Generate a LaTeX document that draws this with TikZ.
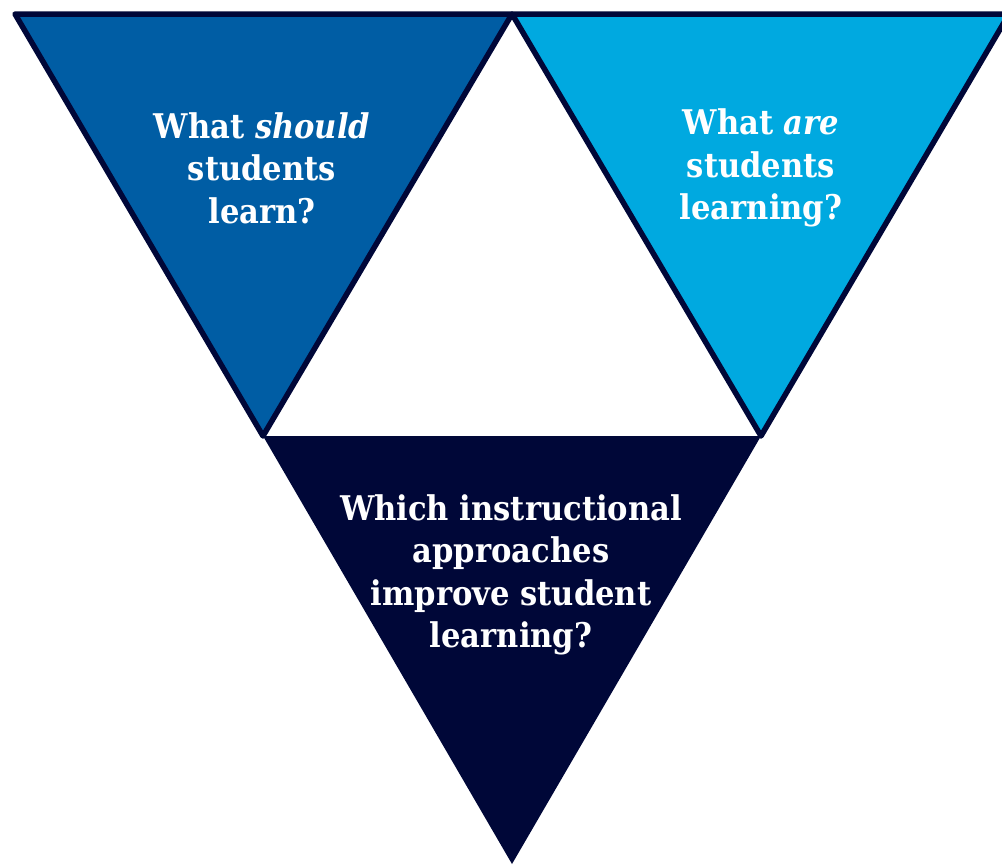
\documentclass[tikz,border=0pt]{standalone}
\usepackage{fontspec}
\setmainfont{DejaVu Serif Condensed}
\definecolor{midblue}{RGB}{0,93,164}
\definecolor{skyblue}{RGB}{0,169,224}
\definecolor{navy}{RGB}{0,7,56}
\tikzset{
    upper/.style={draw=navy, line width=5.5pt, line join=round},
    lower/.style={fill=navy},
    question/.style={text=white, align=center, font=\fontsize{34}{42.5}\selectfont\bfseries, inner sep=0}
}

\begin{document}
\begin{tikzpicture}[x=1pt, y=-1pt]
    \useasboundingbox (0,0) rectangle (1002,865);
    \coordinate (tl) at (15,14);
    \coordinate (tm) at (512,14);
    \coordinate (tr) at (1009,14);
    \coordinate (ml) at (263,436);
    \coordinate (mr) at (761,436);
    \coordinate (bt) at (512,864);
    % two upper triangles
    \begin{scope}
        \clip (0,0) rectangle (1002,865);
        \filldraw[upper, fill=midblue] (tl) -- (tm) -- (ml) -- cycle;
        \filldraw[upper, fill=skyblue] (tm) -- (tr) -- (mr) -- cycle;
    \end{scope}
    % lower triangle
    \fill[lower] (ml) -- (mr) -- (bt) -- cycle;
    \node[question] (should) at (262,168) {What \textit{should}\\students\\learn?};
    \node[question] (are) at (761,168) {What \textit{are}\\students\\learning?};
    \node[question] (which) at (511,575) {Which instructional\\approaches\\improve student\\learning?};
\end{tikzpicture}
\end{document}
